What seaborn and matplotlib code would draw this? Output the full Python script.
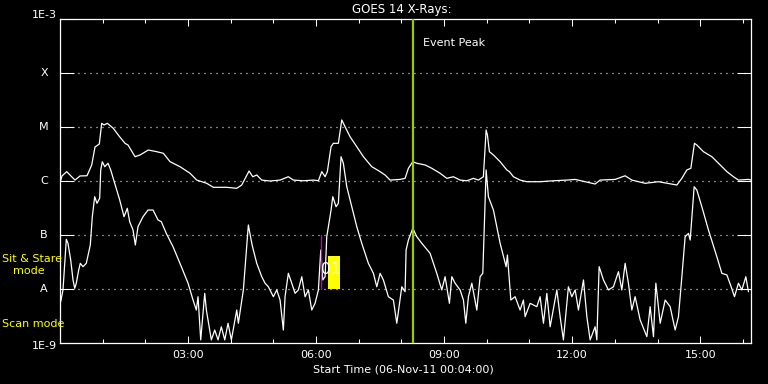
import numpy as np
import pandas as pd
import matplotlib
matplotlib.use("Agg")
import matplotlib.pyplot as plt
import matplotlib.transforms as mtransforms
import seaborn as sns
from matplotlib.ticker import NullLocator
from matplotlib.patches import Rectangle

# ---- data (time in hours after 00:00 UT, flux in W/m^2) ----
long_time_h = [0.012,0.047,0.157,0.234,0.352,0.469,0.633,0.743,0.820,0.921,0.977,1.031,1.109,1.249,1.383,1.523,1.594,1.758,1.875,2.069,2.266,2.421,2.578,2.812,3.047,3.204,3.438,3.593,3.907,4.141,4.258,4.429,4.516,4.610,4.727,4.921,5.156,5.350,5.468,5.702,5.937,6.054,6.133,6.211,6.264,6.351,6.405,6.522,6.602,6.679,6.796,6.953,7.108,7.305,7.500,7.617,7.734,7.968,8.085,8.163,8.266,8.359,8.554,8.711,8.906,9.063,9.217,9.374,9.531,9.686,9.803,9.920,9.984,10.014,10.061,10.155,10.312,10.469,10.530,10.623,10.780,10.937,11.249,11.561,11.875,12.070,12.304,12.538,12.655,13.007,13.241,13.398,13.710,14.022,14.453,14.570,14.687,14.781,14.865,14.921,15.076,15.273,15.428,15.625,15.779,15.896,16.131,16.19]
long_flux = [1.00e-6,1.24e-6,1.49e-6,1.29e-6,1.04e-6,1.24e-6,1.25e-6,1.98e-6,4.26e-6,4.84e-6,1.17e-5,1.09e-5,1.17e-5,9.46e-6,6.81e-6,4.99e-6,4.64e-6,2.82e-6,3.03e-6,3.75e-6,3.49e-6,3.26e-6,2.28e-6,1.84e-6,1.39e-6,1.04e-6,9.06e-7,7.64e-7,7.64e-7,7.32e-7,8.43e-7,1.53e-6,1.20e-6,1.29e-6,1.04e-6,1.00e-6,1.04e-6,1.20e-6,1.04e-6,1.01e-6,1.04e-6,1.01e-6,1.49e-6,1.20e-6,1.49e-6,4.32e-6,4.99e-6,4.99e-6,1.35e-5,1.01e-5,6.61e-6,4.32e-6,2.82e-6,1.84e-6,1.49e-6,1.29e-6,1.04e-6,1.07e-6,1.12e-6,1.72e-6,2.28e-6,2.13e-6,1.98e-6,1.72e-6,1.39e-6,1.12e-6,1.20e-6,1.04e-6,1.01e-6,1.12e-6,1.04e-6,1.20e-6,8.80e-6,7.11e-6,3.49e-6,3.03e-6,2.28e-6,1.60e-6,1.49e-6,1.20e-6,1.04e-6,9.7e-7,9.7e-7,1.01e-6,1.04e-6,1.07e-6,9.7e-7,8.80e-7,1.04e-6,1.07e-6,1.25e-6,1.04e-6,9.06e-7,9.7e-7,8.43e-7,1.12e-6,1.60e-6,1.72e-6,4.99e-6,4.64e-6,3.49e-6,2.82e-6,2.13e-6,1.49e-6,1.20e-6,1.04e-6,1.07e-6,1.04e-6]

short_time_h = [0.016,0.070,0.148,0.187,0.251,0.305,0.345,0.382,0.438,0.476,0.539,0.616,0.710,0.757,0.813,0.867,0.930,0.954,0.991,1.048,1.125,1.188,1.282,1.399,1.500,1.577,1.633,1.711,1.765,1.828,1.945,2.062,2.180,2.297,2.374,2.491,2.648,2.843,3.000,3.117,3.194,3.234,3.297,3.391,3.429,3.546,3.625,3.703,3.780,3.860,3.937,4.015,4.141,4.179,4.296,4.413,4.493,4.530,4.610,4.727,4.804,4.882,4.999,5.079,5.156,5.233,5.273,5.350,5.430,5.507,5.585,5.665,5.742,5.819,5.899,5.976,6.054,6.110,6.157,6.211,6.250,6.351,6.391,6.468,6.522,6.585,6.639,6.719,6.836,6.953,7.070,7.225,7.343,7.422,7.500,7.577,7.694,7.811,7.891,8.008,8.085,8.109,8.163,8.266,8.359,8.477,8.671,8.749,8.828,8.945,9.023,9.124,9.180,9.257,9.374,9.452,9.508,9.569,9.649,9.766,9.843,9.906,9.984,10.037,10.155,10.312,10.452,10.483,10.506,10.563,10.663,10.780,10.858,10.898,11.015,11.172,11.249,11.327,11.406,11.484,11.641,11.718,11.795,11.912,11.992,12.070,12.147,12.265,12.344,12.421,12.538,12.578,12.632,12.733,12.850,12.967,13.084,13.164,13.241,13.318,13.398,13.475,13.593,13.750,13.827,13.905,13.961,14.062,14.179,14.296,14.413,14.490,14.570,14.647,14.725,14.765,14.858,14.921,15.038,15.193,15.390,15.507,15.625,15.725,15.803,15.896,15.976,16.069,16.130]
short_flux = [5.82e-9,9.6e-9,8.32e-8,7.02e-8,3.44e-8,1.47e-8,1.03e-8,1.28e-8,2.25e-8,2.99e-8,2.59e-8,2.99e-8,6.53e-8,2.18e-7,5.12e-7,3.86e-7,4.79e-7,1.60e-6,2.28e-6,1.84e-6,2.13e-6,1.60e-6,9.06e-7,4.45e-7,2.18e-7,3.12e-7,1.76e-7,1.24e-7,6.53e-8,1.43e-7,2.18e-7,2.90e-7,2.90e-7,1.90e-7,1.76e-7,1.07e-7,6.07e-8,2.59e-8,1.28e-8,6.25e-9,4.08e-9,7.20e-9,1.14e-9,8.32e-9,4.08e-9,1.14e-9,1.74e-9,1.14e-9,2.00e-9,1.14e-9,2.32e-9,1.14e-9,4.08e-9,2.32e-9,9.6e-9,1.53e-7,7.02e-8,5.27e-8,2.99e-8,1.69e-8,1.28e-8,1.10e-8,7.20e-9,9.6e-9,6.25e-9,1.74e-9,7.20e-9,1.95e-8,1.28e-8,8.32e-9,9.6e-9,1.69e-8,7.20e-9,9.6e-9,4.08e-9,5.43e-9,9.6e-9,5.27e-8,1.47e-8,1.69e-8,9.31e-8,2.90e-7,5.12e-7,3.34e-7,3.86e-7,2.82e-6,2.13e-6,7.84e-7,3.34e-7,1.43e-7,7.02e-8,2.99e-8,1.95e-8,1.10e-8,1.95e-8,1.47e-8,7.20e-9,6.25e-9,2.32e-9,1.10e-8,8.91e-9,5.27e-8,8.07e-8,1.33e-7,9.31e-8,7.02e-8,4.58e-8,2.99e-8,1.95e-8,9.6e-9,1.69e-8,5.43e-9,1.69e-8,1.28e-8,9.6e-9,6.25e-9,2.32e-9,7.20e-9,1.28e-8,4.08e-9,1.69e-8,1.95e-8,1.60e-6,5.12e-7,2.90e-7,7.02e-8,2.59e-8,4.26e-8,2.42e-8,6.25e-9,7.20e-9,4.08e-9,6.25e-9,3.07e-9,5.43e-9,4.70e-9,7.20e-9,2.32e-9,8.32e-9,2.00e-9,9.6e-9,3.07e-9,1.14e-9,1.10e-8,7.20e-9,9.6e-9,4.08e-9,1.47e-8,3.07e-9,1.14e-9,2.00e-9,1.14e-9,2.59e-8,1.47e-8,9.6e-9,1.10e-8,2.09e-8,9.6e-9,2.99e-8,1.28e-8,4.08e-9,7.20e-9,2.67e-9,1.31e-9,4.70e-9,1.31e-9,1.28e-8,2.32e-9,6.25e-9,4.70e-9,1.74e-9,3.07e-9,1.69e-8,9.31e-8,1.07e-7,8.07e-8,7.84e-7,6.81e-7,3.34e-7,1.24e-7,3.96e-8,1.95e-8,1.82e-8,1.10e-8,7.20e-9,1.28e-8,9.6e-9,1.69e-8,8.91e-9]

level_values = [1e-9, 1e-8, 1e-7, 1e-6, 1e-5, 1e-4, 1e-3]
level_labels = ["1E-9", "A", "B", "C", "M", "X", "1E-3"]
grid_levels = [1e-8, 1e-7, 1e-6, 1e-5, 1e-4]
major_hours = [3, 6, 9, 12, 15]
major_labels = ["03:00", "06:00", "09:00", "12:00", "15:00"]
minor_hours = [1, 2, 4, 5, 7, 8, 10, 11, 13, 14, 16]
x_range_h = (0.0, 16.19)

event_peak_h = 8.28
stare_window_h = (6.274, 6.562)
stare_flux_range = (1e-8, 4.08e-8)
stare_marker_h = 6.124
stare_marker_flux = (1e-8, 1e-7)

title_text = "GOES 14 X-Rays:"
xlabel_text = "Start Time (06-Nov-11 00:04:00)"

n = min(len(long_time_h), len(long_flux))
long_df = pd.DataFrame({"t": long_time_h[:n], "flux": long_flux[:n]})
m = min(len(short_time_h), len(short_flux))
short_df = pd.DataFrame({"t": short_time_h[:m], "flux": short_flux[:m]})

# ---- style ----
sns.set_theme(style="dark")
plt.rcParams.update({
    "figure.facecolor": "black",
    "axes.facecolor": "black",
    "axes.edgecolor": "white",
    "text.color": "white",
    "xtick.color": "white",
    "ytick.color": "white",
    "axes.labelcolor": "white",
    "axes.grid": False,
})
plt.rcParams["font.family"] = ["DejaVu Sans"]

W, H = 768, 384
fig = plt.figure(figsize=(7.68, 3.84), dpi=100)
ax = fig.add_axes([60 / W, 1 - 343 / H, 691 / W, 324 / H])
ax.set_facecolor("black")

for df in (long_df, short_df):
    sns.lineplot(data=df, x="t", y="flux", ax=ax, color="white", lw=0.9,
                 estimator=None, sort=False, legend=False)

ax.set_yscale("log")
ax.set_ylim(level_values[0], level_values[-1])
ax.set_xlim(*x_range_h)
ax.set_xlabel("")
ax.set_ylabel("")

# dotted class grid lines
for v in grid_levels:
    ax.axhline(v, color="white", lw=0.9, ls=(0, (0.8, 4.0)), zorder=1)

# y ticks (labels drawn as texts centred left of the axis)
ax.set_yticks(level_values)
ax.set_yticklabels([])
ax.yaxis.set_minor_locator(NullLocator())
ax.tick_params(axis="y", which="major", direction="in", length=10, width=0.75,
               left=True, right=True, colors="white")
ylab_tr = mtransforms.blended_transform_factory(ax.transAxes, ax.transData)
for v, lab in zip(level_values, level_labels):
    dy = 0
    if lab == "1E-3":
        dy = -4
    elif lab == "1E-9":
        dy = 3
    tr = mtransforms.offset_copy(ylab_tr, fig=fig, x=0, y=-dy, units="dots")
    ax.text((44 - 60) / 691, v, lab, transform=tr, color="white", fontsize=8,
            ha="center", va="center", clip_on=False)

# x ticks
ax.set_xticks(major_hours)
ax.set_xticklabels(major_labels)
ax.set_xticks(minor_hours, minor=True)
ax.tick_params(axis="x", which="major", direction="in", length=5, width=0.75,
               bottom=True, top=True, labelsize=8, pad=5, colors="white")
ax.tick_params(axis="x", which="minor", direction="in", length=2.8, width=0.75,
               bottom=True, top=True, colors="white")

for s in ax.spines.values():
    s.set_color("white")
    s.set_linewidth(0.9)

# event peak line
ax.axvline(event_peak_h, color="#99cc00", lw=1.6, zorder=3)
ax.text(event_peak_h + 0.22, 10 ** (-3 - (43.3 - 19) / 54), "Event Peak",
        color="white", fontsize=8, va="center", ha="left")

# sit & stare window
ax.add_patch(Rectangle((stare_window_h[0], stare_flux_range[0]),
                       stare_window_h[1] - stare_window_h[0],
                       stare_flux_range[1] - stare_flux_range[0],
                       color="yellow", zorder=4, lw=0))
ax.plot([stare_marker_h, stare_marker_h], list(stare_marker_flux),
        color="#c000c0", lw=1.0, zorder=6)
ax.text(stare_marker_h - 0.01, 2.25e-8, "01", color="white", fontsize=11,
        va="center", ha="left", zorder=7)

# texts
fig.text(402 / W, 1 - 10 / H, title_text, color="white", fontsize=8.5,
         ha="center", va="center")
fig.text(403 / W, 1 - 369.5 / H, xlabel_text, color="white", fontsize=8,
         ha="center", va="center")
fig.text(2 / W, 1 - 259 / H, "Sit & Stare", color="yellow", fontsize=8,
         ha="left", va="center")
fig.text(13 / W, 1 - 271 / H, "mode", color="yellow", fontsize=8,
         ha="left", va="center")
fig.text(2 / W, 1 - 324 / H, "Scan mode", color="yellow", fontsize=8,
         ha="left", va="center")

fig.savefig("out.png", dpi=100, facecolor="black")
